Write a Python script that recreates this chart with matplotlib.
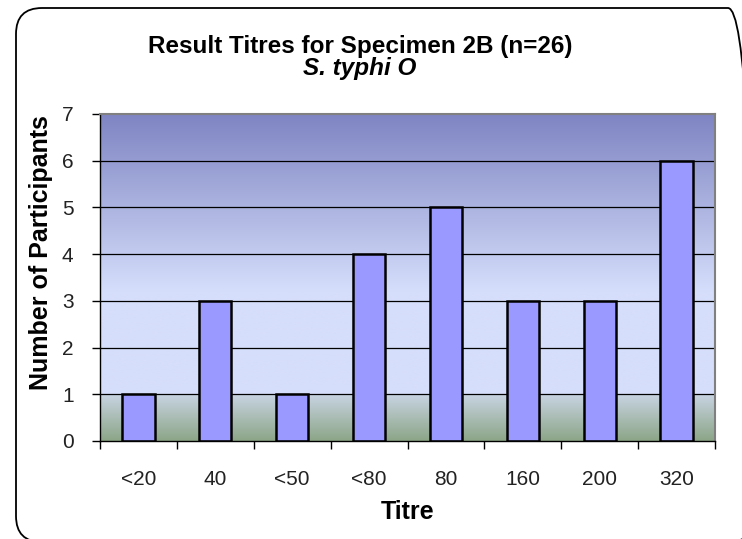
import numpy as np
import matplotlib
matplotlib.use('Agg')
import matplotlib.pyplot as plt
from matplotlib.patches import FancyBboxPatch
from matplotlib.transforms import IdentityTransform

# ──────────────────────────────────────────────
# Data
# ──────────────────────────────────────────────
titres = ['<20', '40', '<50', '<80', '80', '160', '200', '320']
participants = [1, 3, 1, 4, 5, 3, 3, 6]
y_ticks = [0, 1, 2, 3, 4, 5, 6, 7]

plt.rcParams['font.family'] = ['Liberation Sans', 'DejaVu Sans']

W, H = 742, 539
fig = plt.figure(figsize=(W / 100, H / 100), dpi=100)
fig.patch.set_facecolor('white')

# rounded chart-area border (pixel coords, runs off the right/bottom edge)
border = FancyBboxPatch((16, -3), 738, H - 8 + 3,
                        boxstyle='round,pad=0,rounding_size=26',
                        transform=IdentityTransform(), fill=False,
                        edgecolor='black', linewidth=1.3, clip_on=False)
fig.patches.append(border)

ax = fig.add_axes([100 / W, 98 / H, 615 / W, 327 / H])

# background gradient (Excel style fill)
stops_y = [0.0, 0.99, 1.0, 3.2, 7.0]
stops_c = np.array([[140, 165, 135], [200, 212, 226], [214, 222, 250],
                    [213, 222, 251], [126, 132, 194]]) / 255.0
yy = np.linspace(0, 7, 700)
grad = np.stack([np.interp(yy, stops_y, stops_c[:, k]) for k in range(3)], axis=-1)
grad = grad[:, None, :]
ax.imshow(grad, extent=[-0.5, len(titres) - 0.5, 0, 7], origin='lower',
          aspect='auto', zorder=0)

for y in y_ticks[1:-1]:
    ax.axhline(y, color='black', linewidth=0.9, zorder=1)

x = np.arange(len(titres))
ax.bar(x, participants, width=0.42, color='#9999FF', edgecolor='black',
       linewidth=1.8, zorder=2)

ax.set_xlim(-0.5, len(titres) - 0.5)
ax.set_ylim(0, 7)
ax.set_yticks(y_ticks)
ax.tick_params(axis='y', direction='out', length=6, width=1, labelsize=15,
               labelcolor='#222222', pad=13)

# ticks between categories, labels centred
ax.set_xticks(np.arange(len(titres) + 1) - 0.5)
ax.set_xticklabels([])
ax.set_xticks(x, minor=True)
ax.set_xticklabels(titres, minor=True, fontsize=15, color='#222222')
ax.tick_params(axis='x', which='major', direction='out', length=6, width=1)
ax.tick_params(axis='x', which='minor', length=0, pad=21)

for side in ['top', 'right']:
    ax.spines[side].set_color('#808080')
    ax.spines[side].set_linewidth(1.5)
for side in ['left', 'bottom']:
    ax.spines[side].set_color('black')
    ax.spines[side].set_linewidth(1.0)

ax.set_xlabel('Titre', fontsize=18, fontweight='bold', labelpad=8)
ax.set_ylabel('Number of Participants', fontsize=18, fontweight='bold')
ax.yaxis.set_label_coords(-0.076, 0.575)

fig.text(360 / W, 1 - 47 / H, 'Result Titres for Specimen 2B (n=26)', ha='center',
         va='center', fontsize=17.5, fontweight='bold')
fig.text(360 / W, 1 - 69 / H, 'S. typhi O', ha='center', va='center', fontsize=17.5,
         fontweight='bold', style='italic')

plt.savefig('out.png', dpi=100)
